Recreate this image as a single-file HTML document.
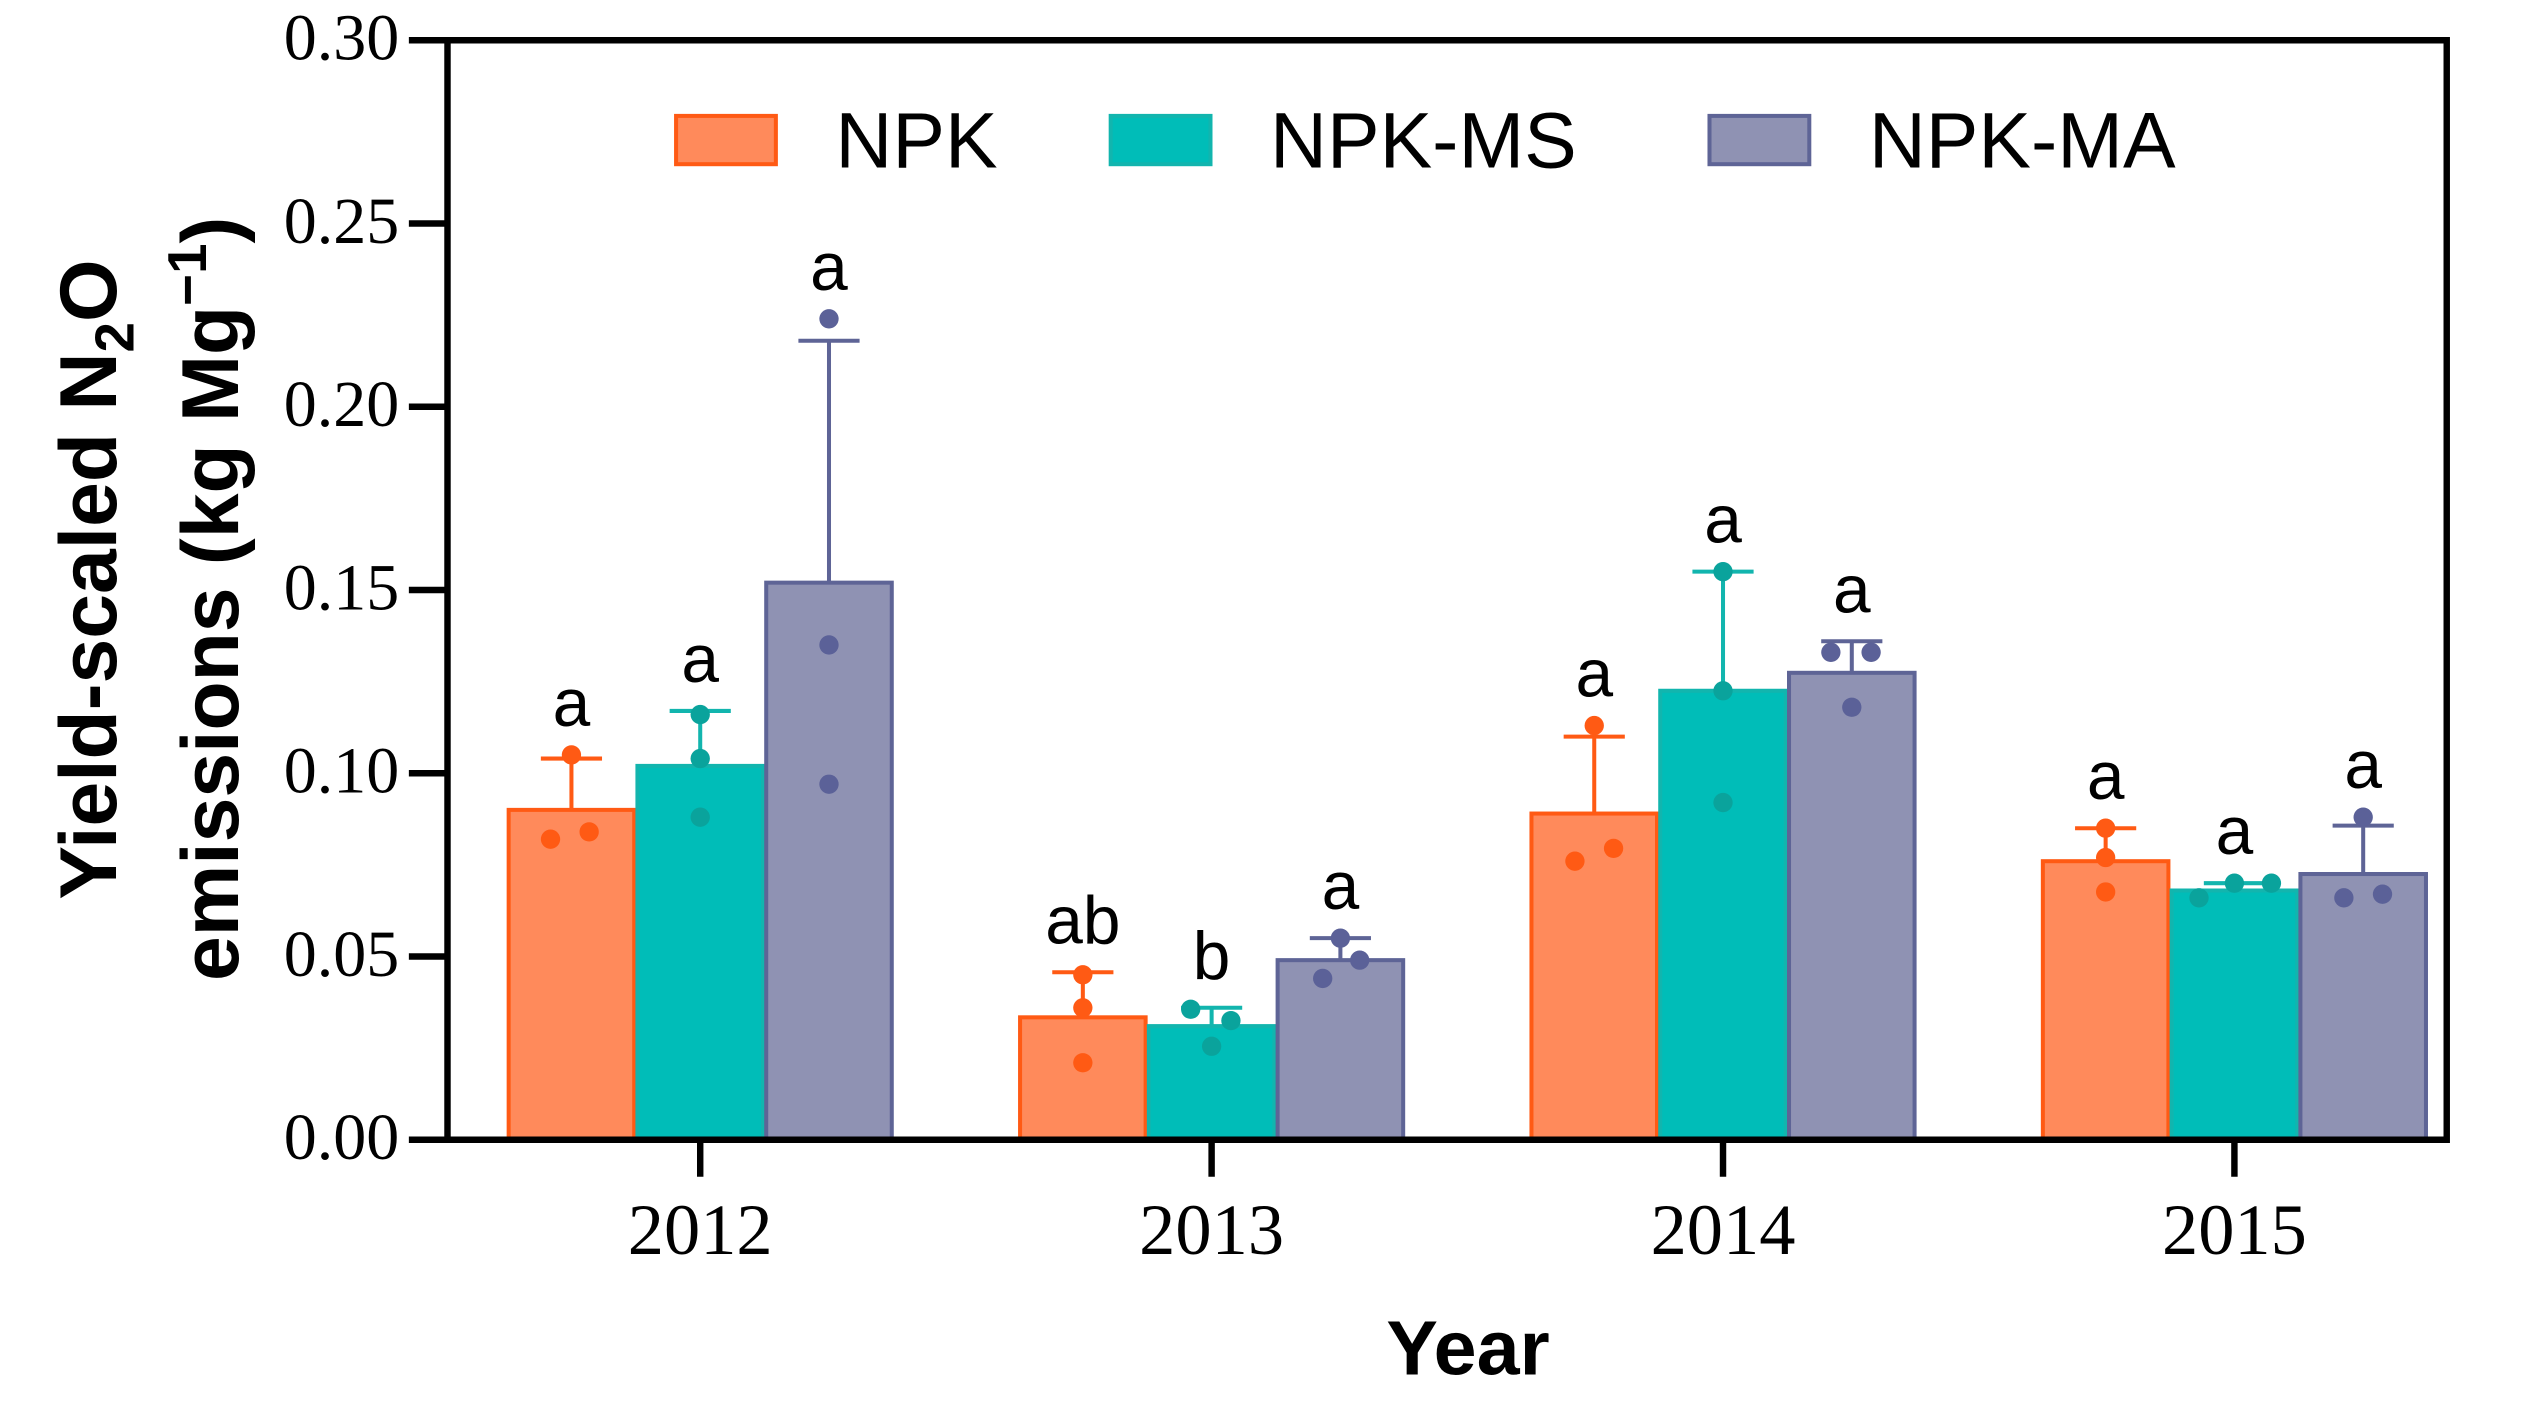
<!DOCTYPE html>
<html><head><meta charset="utf-8"><style>html,body{margin:0;padding:0;background:#fff}svg{display:block}</style></head>
<body>
<svg id="chart" width="2524" height="1415" viewBox="0 0 1568 879" preserveAspectRatio="none" xmlns="http://www.w3.org/2000/svg">
<g font-family="Liberation Sans, sans-serif" font-weight="bold" font-size="50" text-anchor="middle">
<text transform="translate(72,360) rotate(-90)">Yield-scaled N<tspan font-size="34" dy="11">2</tspan><tspan dy="-11">O</tspan></text>
<text transform="translate(148,372) rotate(-90)">emissions (kg Mg<tspan font-size="34" dy="-20">−1</tspan><tspan dy="20">)</tspan></text>
</g>
<text x="912" y="854" font-family="Liberation Sans, sans-serif" font-weight="bold" font-size="48" text-anchor="middle">Year</text>
<g id="plot"></g>
</svg>
<script>
const years = ["2012","2013","2014","2015"];
const seriesNames = ["NPK","NPK-MS","NPK-MA"];
const meanNPK = [0.090,0.0334,0.089,0.076];
const meanMS = [0.102,0.031,0.1225,0.068];
const meanMA = [0.152,0.049,0.1274,0.0725];
const errNPK = [0.104,0.0457,0.110,0.085];
const errMS = [0.117,0.036,0.155,0.070];
const errMA = [0.218,0.055,0.136,0.0857];
const ptsNPK = [[0.105,0.082,0.084],[0.045,0.036,0.021],[0.113,0.076,0.0795],[0.085,0.077,0.0676]];
const ptsMS = [[0.116,0.104,0.088],[0.0356,0.0325,0.0255],[0.155,0.1225,0.092],[0.066,0.070,0.070]];
const ptsMA = [[0.224,0.135,0.097],[0.055,0.044,0.049],[0.133,0.133,0.118],[0.088,0.066,0.067]];
const lettersNPK = ["a","ab","a","a"];
const lettersMS = ["a","b","a","a"];
const lettersMA = ["a","a","a","a"];
const yTicks = [0,0.05,0.10,0.15,0.20,0.25,0.30];

const NS="http://www.w3.org/2000/svg";
const X0=278,X1=1520,Y0=708,Y1=25,YMAX=0.30;
const y=v=>Y0-(v/YMAX)*(Y0-Y1);
const groupX=i=>435+i*317.7;
const barW=78;
// horizontal jitter of dots (layout only)
const jitter=[
 [[0,-13,11],[0,0,0],[0,0,0]],
 [[0,0,0],[-13,12,0],[0,-11,12]],
 [[0,-12,12],[0,0,0],[-13,12,0]],
 [[0,0,0],[-22,0,23],[0,-12,12]]
];
const g=document.getElementById('plot');
function mk(t,a,p){const e=document.createElementNS(NS,t);for(const k in a)e.setAttribute(k,a[k]);(p||g).appendChild(e);return e;}
const colors=[{f:"#FF8A5B",s:"#FF5A14",d:"#FF5A14"},{f:"#00BDB8",s:"#12B5AE",d:"#0AA39C"},{f:"#8F92B3",s:"#5E6496",d:"#5B6198"}];
const means=[meanNPK,meanMS,meanMA],errs=[errNPK,errMS,errMA],pts=[ptsNPK,ptsMS,ptsMA],lets=[lettersNPK,lettersMS,lettersMA];
years.forEach((yr,i)=>{
  for(let s=0;s<3;s++){
    const cx=groupX(i)+(s-1)*80;
    const c=colors[s];
    const top=y(means[s][i]);
    const r=mk('rect',{x:cx-barW/2,y:top,width:barW,height:Y0-top,fill:c.f,stroke:c.s,'stroke-width':2.5});
    
    
    const ey=y(errs[s][i]);
    const eb=mk('path',{d:`M${cx},${top}V${ey}M${cx-19},${ey}H${cx+19}`,stroke:c.s,'stroke-width':2.5,fill:'none'});
    
    
    pts[s][i].forEach((v,k)=>{
      const d=mk('circle',{cx:cx+jitter[i][s][k],cy:y(v),r:6,fill:c.d});
      
      
    });
    const mx=Math.max(errs[s][i],...pts[s][i]);
    const t=mk('text',{x:cx,y:y(mx)-18,'font-family':'Liberation Sans, sans-serif','font-size':42,'text-anchor':'middle',fill:'#000'});
    t.textContent=lets[s][i];
    
    
  }
  const tk=mk('line',{x1:groupX(i),x2:groupX(i),y1:Y0,y2:731,stroke:'#000','stroke-width':4});
  
  
  const tl=mk('text',{x:groupX(i),y:779,'font-family':'Liberation Serif, serif','font-size':45,'text-anchor':'middle'});
  tl.textContent=yr;
  
  
});
const frame=mk('path',{d:`M${X0},${Y1}H${X1}V${Y0}H${X0}Z`,fill:'none',stroke:'#000','stroke-width':4});


yTicks.forEach(v=>{
  const l=mk('line',{x1:254,x2:X0,y1:y(v),y2:y(v),stroke:'#000','stroke-width':4});
  
  
  const t=mk('text',{x:248,y:y(v)+12,'font-family':'Liberation Serif, serif','font-size':41,'text-anchor':'end'});
  t.textContent=v.toFixed(2);
  
  
});
const legX=[420,690,1062];
seriesNames.forEach((n,s)=>{
  const r=mk('rect',{x:legX[s],y:72,width:62,height:30,fill:colors[s].f,stroke:colors[s].s,'stroke-width':2.5});
  
  
  const t=mk('text',{x:legX[s]+99,y:104,'font-family':'Liberation Sans, sans-serif','font-size':49});
  t.textContent=n;
  
  
});
</script>
</body></html>
